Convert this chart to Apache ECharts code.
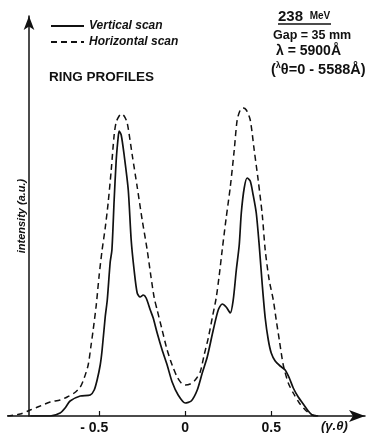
<!DOCTYPE html>
<html>
<head>
<meta charset="utf-8">
<script src="https://cdn.jsdelivr.net/npm/echarts@6/dist/echarts.min.js"></script>
<style>html,body{margin:0;padding:0;background:#fff;}#c{width:373px;height:439px;}</style>
</head>
<body>
<div id="c"></div>
<script>
// ---- data (x in units of γ·θ, intensity in arbitrary units) ----
const seriesNames = ['Vertical scan', 'Horizontal scan'];
const xTickValues = [-0.5, 0, 0.5];
const xTickLabels = ['- 0.5', '0', '0.5'];

const vertX = [-0.901,-0.785,-0.727,-0.698,-0.669,-0.610,-0.552,-0.529,-0.512,-0.494,-0.483,-0.465,-0.453,-0.436,-0.426,-0.413,-0.401,-0.390,-0.384,-0.372,-0.355,-0.331,-0.314,-0.297,-0.279,-0.262,-0.244,-0.227,-0.203,-0.186,-0.163,-0.134,-0.105,-0.076,-0.041,0,0.035,0.070,0.099,0.128,0.163,0.192,0.215,0.238,0.262,0.279,0.297,0.314,0.326,0.343,0.360,0.378,0.395,0.413,0.430,0.448,0.465,0.483,0.500,0.523,0.552,0.581,0.605,0.628,0.657,0.686,0.715,0.738,0.773];
const vertY = [0,0,0.03,0.08,0.15,0.20,0.21,0.26,0.36,0.51,0.66,0.99,1.16,1.54,1.66,2.16,2.56,2.78,2.85,2.81,2.61,2.26,1.76,1.46,1.23,1.19,1.21,1.18,1.06,0.98,0.83,0.66,0.51,0.34,0.21,0.13,0.15,0.26,0.43,0.59,0.86,1.06,1.12,1.09,1.03,1.16,1.46,1.71,2.03,2.28,2.38,2.35,2.21,2.03,1.71,1.31,0.98,0.76,0.63,0.55,0.50,0.46,0.38,0.28,0.19,0.12,0.05,0.01,0];

const horizX = [-1.035,-0.959,-0.901,-0.843,-0.785,-0.727,-0.686,-0.645,-0.610,-0.587,-0.564,-0.547,-0.535,-0.517,-0.500,-0.483,-0.465,-0.448,-0.430,-0.413,-0.401,-0.384,-0.372,-0.355,-0.337,-0.308,-0.279,-0.250,-0.221,-0.198,-0.180,-0.163,-0.134,-0.105,-0.076,-0.047,-0.023,0,0.029,0.058,0.087,0.110,0.134,0.157,0.180,0.198,0.215,0.238,0.262,0.285,0.302,0.320,0.337,0.355,0.378,0.401,0.424,0.448,0.465,0.488,0.512,0.529,0.547,0.570,0.599,0.628,0.663,0.698,0.738,0.773];
const horizY = [0,0.02,0.06,0.10,0.14,0.16,0.19,0.23,0.29,0.38,0.51,0.71,0.86,1.11,1.41,1.66,1.88,2.13,2.46,2.81,2.94,3.00,3.02,3.00,2.93,2.61,2.29,1.96,1.66,1.38,1.18,1.06,0.86,0.66,0.51,0.39,0.33,0.31,0.32,0.36,0.44,0.61,0.78,0.98,1.18,1.41,1.66,1.98,2.29,2.66,2.96,3.06,3.08,3.06,2.96,2.66,2.36,2.01,1.66,1.36,1.16,0.96,0.76,0.51,0.33,0.23,0.13,0.06,0.01,0];

const FONT = '"Liberation Sans", Arial, sans-serif';
const pair = (xs, ys) => xs.map((x, i) => [x, ys[i]]);

const chart = echarts.init(document.getElementById('c'), null, {renderer: 'canvas'});
chart.setOption({
  animation: false,
  backgroundColor: '#fff',
  textStyle: {fontFamily: FONT},
  grid: {left: 8, right: 8, top: 16, bottom: 23, containLabel: false},
  legend: {
    orient: 'vertical', left: 45, top: 15, itemWidth: 33, itemHeight: 14, itemGap: 4,
    itemStyle: {opacity: 0},
    textStyle: {fontFamily: FONT, fontSize: 12, fontWeight: 'bold', fontStyle: 'italic', color: '#111'},
    data: seriesNames
  },
  xAxis: {
    type: 'value', min: -1.03, max: 1.045,
    splitLine: {show: false},
    axisLine: {onZero: false, lineStyle: {color: '#111', width: 1.5}, symbol: ['none', 'arrow'], symbolSize: [9, 16], symbolOffset: [0, 0]},
    axisTick: {show: true, inside: true, length: 5, lineStyle: {color: '#111', width: 1.2}, customValues: xTickValues},
    axisLabel: {
      customValues: xTickValues,
      formatter: v => v < 0 ? '{n|' + xTickLabels[0] + '}' : (xTickLabels[xTickValues.indexOf(v)] || ''),
      rich: {n: {fontFamily: FONT, fontSize: 14, fontWeight: 'bold', color: '#111', padding: [0, 10, 0, 0]}},
      fontFamily: FONT, fontSize: 14, fontWeight: 'bold', color: '#111', margin: 5
    }
  },
  yAxis: {
    type: 'value', min: 0, max: 4.0, offset: -21,
    splitLine: {show: false},
    axisLine: {show: true, onZero: false, lineStyle: {color: '#111', width: 1.5}, symbol: ['none', 'arrow'], symbolSize: [8, 14]},
    axisTick: {show: false}, axisLabel: {show: false},
    name: 'intensity (a.u.)', nameLocation: 'middle', nameRotate: 90, nameGap: 2,
    nameTextStyle: {fontFamily: FONT, fontSize: 11, fontWeight: 'bold', fontStyle: 'italic', color: '#111'}
  },
  graphic: [
    {type: 'text', left: 278, top: 9, style: {text: '{a|238}  {b|MeV}', rich: {a: {fontFamily: FONT, fontSize: 15, fontWeight: 'bold', fill: '#111'}, b: {fontFamily: FONT, fontSize: 10, fontWeight: 'bold', fill: '#111'}}}},
    {type: 'line', shape: {x1: 278, y1: 24, x2: 331, y2: 24}, style: {stroke: '#111', lineWidth: 1.5}},
    {type: 'text', left: 273, top: 29, style: {text: 'Gap = 35 mm', fontFamily: FONT, fontSize: 12.5, fontWeight: 'bold', fill: '#111'}},
    {type: 'text', left: 276, top: 44, style: {text: 'λ = 5900Å', fontFamily: FONT, fontSize: 14, fontWeight: 'bold', fill: '#111'}},
    {type: 'text', left: 271, top: 61, style: {text: '({s|λ}θ=0 - 5588Å)', fontFamily: FONT, fontSize: 14.5, fontWeight: 'bold', fill: '#111', rich: {s: {fontFamily: FONT, fontSize: 9, fontWeight: 'bold', fill: '#111', padding: [0, 0, 8, 0]}}}},
    {type: 'text', left: 49, top: 70, style: {text: 'RING PROFILES', fontFamily: FONT, fontSize: 13.5, fontWeight: 'bold', fill: '#111'}},
    {type: 'text', left: 321, top: 420, style: {text: '(γ.θ)', fontFamily: FONT, fontSize: 13, fontWeight: 'bold', fontStyle: 'italic', fill: '#111'}}
  ],
  series: [
    {name: seriesNames[0], type: 'line', data: pair(vertX, vertY), smooth: 0.25, symbol: 'none', lineStyle: {color: '#111', width: 1.7, type: 'solid'}, itemStyle: {color: '#111'}},
    {name: seriesNames[1], type: 'line', data: pair(horizX, horizY), smooth: 0.25, symbol: 'none', lineStyle: {color: '#111', width: 1.5, type: [6, 4]}, itemStyle: {color: '#111'}}
  ]
});
</script>
</body>
</html>
